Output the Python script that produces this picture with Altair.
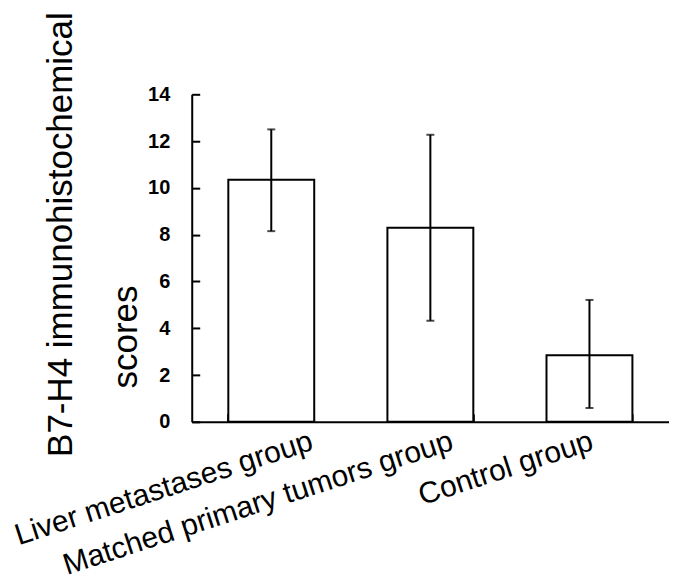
import altair as alt
import pandas as pd

# ---- data ----
categories = ["Liver metastases group", "Matched primary tumors group", "Control group"]
means = [10.35, 8.3, 2.85]
upper = [12.5, 12.27, 5.21]
lower = [8.15, 4.32, 0.59]
y_ticks = [0, 2, 4, 6, 8, 10, 12, 14]
y_title = "B7-H4 immunohistochemical"
y_title_2 = "scores"

df = pd.DataFrame({"group": categories, "score": means, "hi": upper, "lo": lower})

FONT = "Liberation Sans"
W, H = 478, 328

x_scale = alt.Scale(domain=categories, paddingInner=0.46, paddingOuter=0.23)
y_scale = alt.Scale(domain=[0, 14], nice=False)

label_offset = {
    "condition": [
        {"test": "datum.value === 'Liver metastases group'", "value": 36},
        {"test": "datum.value === 'Matched primary tumors group'", "value": 17},
    ],
    "value": -2,
}

bars = alt.Chart(df).mark_bar(fill="white", stroke="black", strokeWidth=2).encode(
    x=alt.X(
        "group:N", sort=categories, scale=x_scale,
        axis=alt.Axis(
            title=None, labelAngle=-18, labelAlign="right", labelBaseline="top",
            labelFontSize=30, labelFont=FONT, labelColor="black", labelPadding=4,
            labelLimit=1000, labelOverlap=False, ticks=False,
            domainColor="black", domainWidth=2, labelOffset=label_offset,
        ),
    ),
    y=alt.Y(
        "score:Q", scale=y_scale,
        axis=alt.Axis(
            values=y_ticks, ticks=False, grid=False, labelPadding=22,
            labelFontSize=20, labelFontWeight="bold", labelFont=FONT, labelColor="black",
            domainColor="black", domainWidth=2,
            title=y_title, titleFont=FONT, titleFontSize=35, titleFontWeight="normal",
            titleColor="black", titleAngle=270, titleX=-120, titleY=140,
            titleAlign="center", titleBaseline="alphabetic",
        ),
    ),
)

err = alt.Chart(df).mark_rule(color="black", strokeWidth=2).encode(
    x=alt.X(
        "group:N", sort=categories, scale=x_scale,
        axis=alt.Axis(
            orient="top", offset=-H, labels=False, domain=False, title=None,
            ticks=True, tickSize=8, tickWidth=2, tickColor="black",
            bandPosition=1, tickExtra=True,
        ),
    ),
    y=alt.Y(
        "lo:Q", scale=y_scale,
        axis=alt.Axis(
            orient="right", offset=-W, labels=False, domain=False, title=None,
            values=y_ticks, tickSize=8, tickWidth=2, tickColor="black", grid=False,
        ),
    ),
    y2="hi:Q",
)

cap_hi = alt.Chart(df).mark_tick(color="black", size=8, thickness=2).encode(
    x=alt.X("group:N", sort=categories, scale=x_scale, axis=None),
    y=alt.Y("hi:Q", scale=y_scale, axis=None),
)
cap_lo = alt.Chart(df).mark_tick(color="black", size=8, thickness=2).encode(
    x=alt.X("group:N", sort=categories, scale=x_scale, axis=None),
    y=alt.Y("lo:Q", scale=y_scale, axis=None),
)

scores_text = alt.Chart(pd.DataFrame({"t": [y_title_2]})).mark_text(
    font=FONT, fontSize=35, angle=270, align="center", baseline="alphabetic", color="black"
).encode(text="t:N", x=alt.value(-55), y=alt.value(243))

chart = (
    alt.layer(bars, err, cap_hi, cap_lo, scores_text)
    .resolve_axis(x="independent", y="independent")
    .properties(
        width=W, height=H,
        autosize=alt.AutoSizeParams(type="none"),
        padding={"left": 184, "top": 86, "right": 0, "bottom": 158},
        background="white",
    )
    .configure_view(stroke=None)
)

chart.save("out.html", embed_options={"renderer": "svg", "actions": False})
